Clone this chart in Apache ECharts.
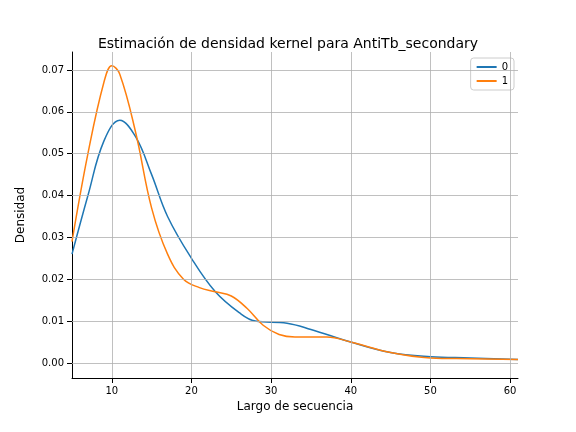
<!DOCTYPE html><html><head><meta charset="utf-8"><script src="https://cdn.jsdelivr.net/npm/echarts@6/dist/echarts.min.js"></script></head><body style="margin:0"><div id="c" style="width:576px;height:432px"></div><script>
const xTicks=[10,20,30,40,50,60];
const xs0=[5,7,9,11,13,15,17,20,23,26,28,32,35,40,45,50,55,61];
const ys0=[0.026,0.040,0.053,0.058,0.054,0.045,0.035,0.025,0.017,0.012,0.010,0.0095,0.008,0.005,0.0025,0.0015,0.0012,0.0008];
const xs1=[5,7,9,10,11,13,15,17,19,21,23,25,27,29,31,33,37,40,45,50,55,61];
const ys1=[0.029,0.050,0.067,0.071,0.069,0.055,0.037,0.026,0.020,0.018,0.017,0.016,0.013,0.009,0.0068,0.0062,0.0062,0.005,0.0025,0.0012,0.001,0.0008];
const f='DejaVu Sans';
const ch=echarts.init(document.getElementById('c'));
ch.setOption({animation:false,textStyle:{fontFamily:f},
title:{text:'Estimación de densidad kernel para AntiTb_secondary',left:'center',top:32,textStyle:{fontFamily:f,fontSize:14,fontWeight:'normal',color:'#000'}},
legend:{right:62,top:58,orient:'vertical',itemWidth:20,itemHeight:2,textStyle:{fontSize:10,color:'#000'},borderColor:'#ccc',borderWidth:1,borderRadius:3,padding:[4,6],itemGap:4,data:['0','1'],icon:'rect'},
grid:{left:72,right:58,top:52,bottom:54},
xAxis:{type:'value',min:5,max:61,name:'Largo de secuencia',nameLocation:'middle',nameGap:22,nameTextStyle:{fontSize:12,color:'#000'},
axisLine:{onZero:false,lineStyle:{color:'#000'}},axisTick:{customValues:xTicks,lineStyle:{color:'#000'}},axisLabel:{customValues:xTicks,color:'#000',fontSize:10},splitLine:{show:false}},
yAxis:{type:'value',min:-0.0036,max:0.0743,name:'Densidad',nameLocation:'middle',nameGap:45,nameTextStyle:{fontSize:12,color:'#000'},
axisLine:{show:true,lineStyle:{color:'#000'}},axisTick:{show:true,customValues:[0,0.01,0.02,0.03,0.04,0.05,0.06,0.07],lineStyle:{color:'#000'}},
axisLabel:{customValues:[0,0.01,0.02,0.03,0.04,0.05,0.06,0.07],formatter:v=>v.toFixed(2),color:'#000',fontSize:10},splitLine:{show:false}},
series:[
{name:'0',type:'line',smooth:0.4,symbol:'none',lineStyle:{color:'#1f77b4',width:1.5},itemStyle:{color:'#1f77b4'},data:xs0.map((x,i)=>[x,ys0[i]]),
markLine:{silent:true,symbol:'none',label:{show:false},lineStyle:{color:'#b0b0b0',width:0.8,type:'solid'},data:[...xTicks.map(v=>({xAxis:v})),...[0,0.01,0.02,0.03,0.04,0.05,0.06,0.07].map(v=>({yAxis:v}))]}},
{name:'1',type:'line',smooth:0.4,symbol:'none',lineStyle:{color:'#ff7f0e',width:1.5},itemStyle:{color:'#ff7f0e'},data:xs1.map((x,i)=>[x,ys1[i]])}
]});
</script></body></html>
